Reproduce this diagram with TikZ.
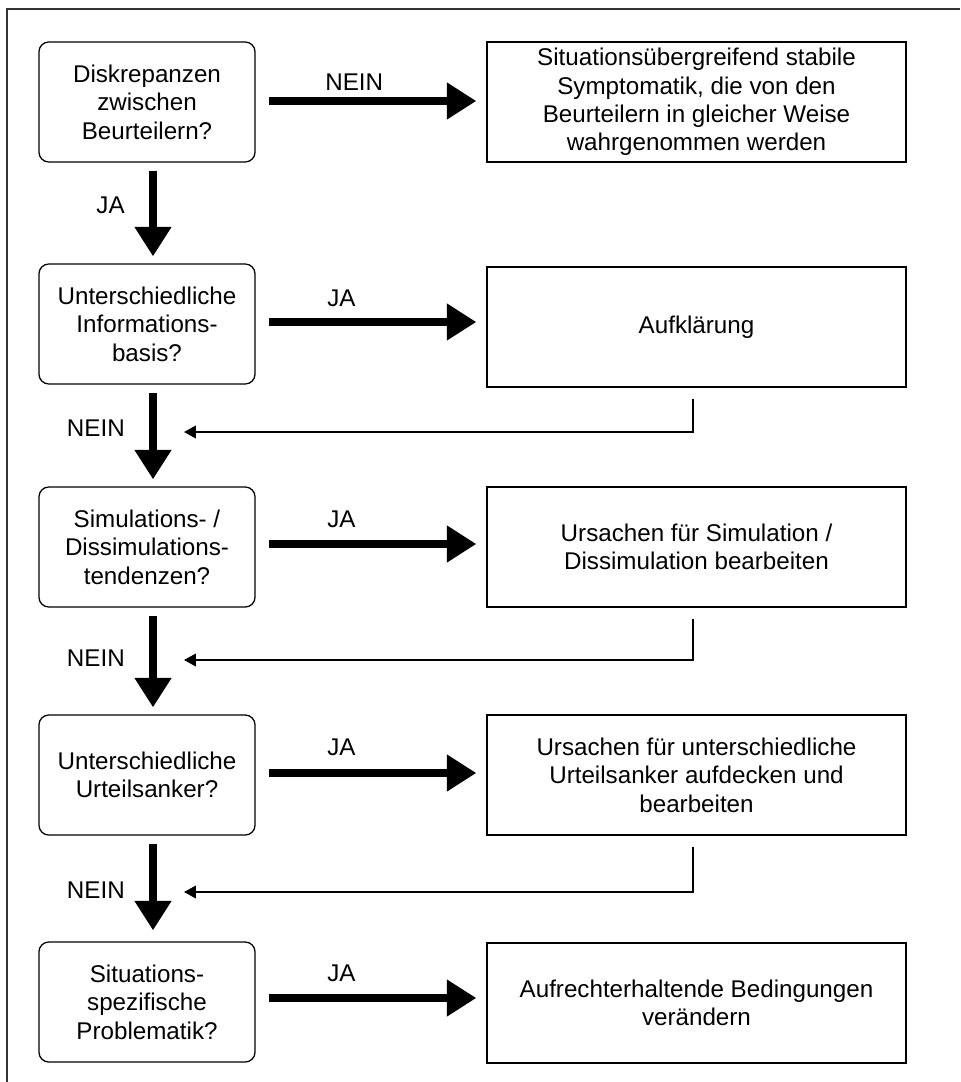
\documentclass[tikz,border=0pt]{standalone}
\usepackage{fontspec}
\setmainfont{Liberation Sans}
\usetikzlibrary{arrows.meta}

\begin{document}
\begin{tikzpicture}[x=0.025cm, y=-0.025cm,
    every node/.style={font=\fontsize{17.2}{20.2}\selectfont},
    frage/.style={draw, rounded corners=7pt, line width=0.9pt, minimum width=5.4cm, minimum height=3cm, align=center},
    massnahme/.style={draw, line width=0.9pt, minimum width=10.475cm, minimum height=3cm, align=center},
    weiter/.style={line width=5.3pt, -{Triangle[width=25pt,length=21pt]}},
    zurueck/.style={line width=1.3pt, -{Triangle[width=9pt,length=8.5pt]}},
    antwort/.style={inner sep=0pt}]
            \useasboundingbox (0,0) rectangle (960,1082);
            \draw[line width=0.9pt, black!80] (7,1082) |- (960,9);

            % Fragen
            \node[frage] (q1) at (147,102) {Diskrepanzen\\zwischen\\Beurteilern?};
            \node[frage] (q2) at (147,324) {Unterschiedliche\\Informations-\\basis?};
            \node[frage] (q3) at (147,547) {Simulations- /\\Dissimulations-\\tendenzen?};
            \node[frage] (q4) at (147,775) {Unterschiedliche\\Urteilsanker?};
            \node[frage] (q5) at (147,1002) {Situations-\\spezifische\\Problematik?};

            % Massnahmen
            \node[massnahme] (m1) at (696.5,102) {Situationsübergreifend stabile\\Symptomatik, die von den\\Beurteilern in gleicher Weise\\wahrgenommen werden};
            \node[massnahme] (m2) at (696.5,327) {Aufklärung};
            \node[massnahme] (m3) at (696.5,547) {Ursachen für Simulation /\\Dissimulation bearbeiten};
            \node[massnahme] (m4) at (696.5,775) {Ursachen für unterschiedliche\\Urteilsanker aufdecken und\\bearbeiten};
            \node[massnahme] (m5) at (696.5,1003) {Aufrechterhaltende Bedingungen\\verändern};

            % Antworten
            \node[antwort, anchor=west] (a1) at (325,82) {NEIN};
            \node[antwort, anchor=west] (a2) at (327,298) {JA};
            \node[antwort, anchor=west] (a3) at (327,519) {JA};
            \node[antwort, anchor=west] (a4) at (327,747) {JA};
            \node[antwort, anchor=west] (a5) at (327,973) {JA};
            \node[antwort, anchor=east] (b1) at (125,205) {JA};
            \node[antwort, anchor=east] (b2) at (125,428) {NEIN};
            \node[antwort, anchor=east] (b3) at (125,658) {NEIN};
            \node[antwort, anchor=east] (b4) at (125,890) {NEIN};

            % Draw edges
            \draw[weiter] ([shift={(13,-1)}]q1.east) -- ([shift={(-10,-1)}]m1.west);
            \draw[weiter] ([shift={(13,-2)}]q2.east) -- ([shift={(-10,-5)}]m2.west);
            \draw[weiter] ([shift={(13,-3)}]q3.east) -- ([shift={(-10,-3)}]m3.west);
            \draw[weiter] ([shift={(13,-2)}]q4.east) -- ([shift={(-10,-2)}]m4.west);
            \draw[weiter] ([shift={(13,-4)}]q5.east) -- ([shift={(-10,-5)}]m5.west);

            \draw[weiter] ([shift={(6,8)}]q1.south) -- ([shift={(6,-7)}]q2.north);
            \draw[weiter] ([shift={(6,8)}]q2.south) -- ([shift={(6,-7)}]q3.north);
            \draw[weiter] ([shift={(6,8)}]q3.south) -- ([shift={(6,-7)}]q4.north);
            \draw[weiter] ([shift={(6,8)}]q4.south) -- ([shift={(6,-11)}]q5.north);

            \coordinate (r2) at (184,432);
            \coordinate (r3) at (184,660);
            \coordinate (r4) at (184,892);
            \draw[zurueck] ([shift={(-3.5,11)}]m2.south) |- (r2);
            \draw[zurueck] ([shift={(-3.5,11)}]m3.south) |- (r3);
            \draw[zurueck] ([shift={(-3.5,11)}]m4.south) |- (r4);

        \end{tikzpicture}
\end{document}
